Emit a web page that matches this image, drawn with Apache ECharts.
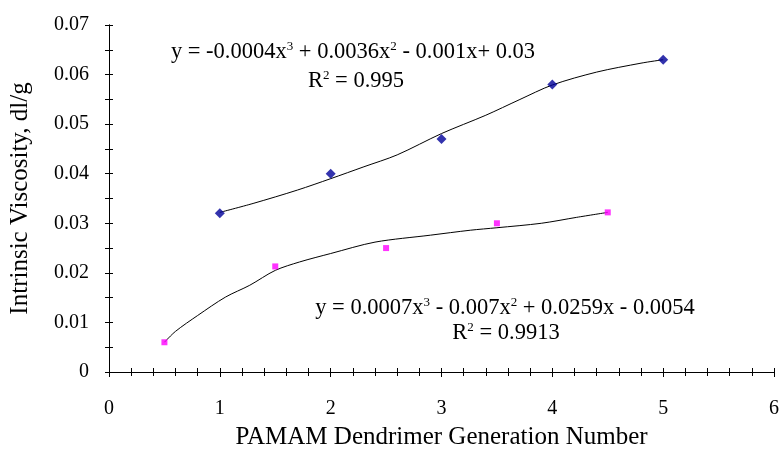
<!DOCTYPE html>
<html><head><meta charset="utf-8">
<script src="https://cdn.jsdelivr.net/npm/echarts@6/dist/echarts.min.js"></script>
<style>html,body{margin:0;padding:0;background:#fff}#c{width:779px;height:451px}</style>
</head><body><div id="c"></div>
<script>
// Data
const blueX = [1, 2, 3, 4, 5];
const blueY = [0.032, 0.040, 0.047, 0.058, 0.063];
const pinkX = [0.5, 1.5, 2.5, 3.5, 4.5];
const pinkY = [0.006, 0.0213, 0.025, 0.030, 0.0322];
// Trend curves
const trendUpX = [1, 1.3, 1.7, 2, 2.3, 2.6, 3, 3.4, 3.7, 4, 4.4, 4.8, 5];
const trendUpY = [0.0322, 0.0340, 0.0367, 0.0390, 0.0414, 0.0438, 0.0481, 0.0518, 0.0549, 0.0579, 0.0605, 0.0623, 0.0630];
const trendLoX = [0.5, 0.6, 0.8, 1.05, 1.27, 1.5, 1.72, 2.0, 2.4, 2.9, 3.26, 3.5, 3.9, 4.22, 4.5];
const trendLoY = [0.0060, 0.0082, 0.0114, 0.0151, 0.0175, 0.0205, 0.0222, 0.0239, 0.0262, 0.0276, 0.0286, 0.0291, 0.0300, 0.0312, 0.0322];
const xTicks = [0, 1, 2, 3, 4, 5, 6];
const yTicks = [0, 0.01, 0.02, 0.03, 0.04, 0.05, 0.06, 0.07];
const eqUp = 'y = -0.0004x{s|3} + 0.0036x{s|2} - 0.001x+ 0.03';
const r2Up = 'R{s|2} = 0.995';
const eqLo = 'y = 0.0007x{s|3} - 0.007x{s|2} + 0.0259x - 0.0054';
const r2Lo = 'R{s|2} = 0.9913';

const FONT = '"Liberation Serif", "Times New Roman", serif';
const chart = echarts.init(document.getElementById('c'));
const pair = (xs, ys) => xs.map((x, i) => [x, ys[i]]);
function eq(text, cx, cy, size) {
  return {type: 'text', x: cx, y: cy, z: 10, style: {text: text, font: size + 'px ' + FONT, fill: '#000',
    align: 'center', verticalAlign: 'middle',
    rich: { s: {fontSize: 13, fontFamily: FONT, verticalAlign: 'top', padding: [0, 0, 9, 0]} }}};
}
const GRID = {left: 109, right: 5, top: 25, bottom: 79, containLabel: false, outerBoundsMode: 'none'};
const lineBlack = {show: true, onZero: false, lineStyle: {color: '#000', width: 1}};
chart.setOption({
  animation: false,
  backgroundColor: '#fff',
  grid: [Object.assign({}, GRID), Object.assign({}, GRID)],
  xAxis: [
    {type: 'value', gridIndex: 0, position: 'bottom', min: 0, max: 6, interval: 1,
      axisLine: lineBlack, splitLine: {show: false},
      axisTick: {show: true, length: 5, inside: false, lineStyle: {color: '#000'}},
      minorTick: {show: true, splitNumber: 5, length: 4, lineStyle: {color: '#000'}},
      axisLabel: {margin: 27, fontSize: 20, fontFamily: FONT, color: '#000',
        customValues: xTicks, formatter: v => String(v)},
      name: 'PAMAM Dendrimer Generation Number', nameLocation: 'middle', nameGap: 53,
      nameTextStyle: {fontSize: 25, fontFamily: FONT, color: '#000'}
    },
    {type: 'value', gridIndex: 1, position: 'bottom', min: 0, max: 6, interval: 1,
      axisLine: lineBlack, splitLine: {show: false},
      axisTick: {show: true, length: 4, inside: true, lineStyle: {color: '#000'}},
      minorTick: {show: true, splitNumber: 5, length: 4, lineStyle: {color: '#000'}},
      axisLabel: {show: false}
    }
  ],
  yAxis: [
    {type: 'value', gridIndex: 0, position: 'left', min: 0, max: 0.07, interval: 0.01,
      axisLine: lineBlack, splitLine: {show: false},
      axisTick: {show: true, length: 4, inside: false, lineStyle: {color: '#000'}},
      minorTick: {show: true, splitNumber: 2, length: 4, lineStyle: {color: '#000'}},
      axisLabel: {margin: 20, fontSize: 20, fontFamily: FONT, color: '#000',
        customValues: yTicks, formatter: v => (v === 0 ? '0' : v.toFixed(2))},
      name: 'Intrinsic Viscosity, dl/g', nameLocation: 'middle', nameGap: 76,
      nameTextStyle: {fontSize: 25, fontFamily: FONT, color: '#000'}
    },
    {type: 'value', gridIndex: 1, position: 'left', min: 0, max: 0.07, interval: 0.01,
      axisLine: lineBlack, splitLine: {show: false},
      axisTick: {show: true, length: 4, inside: true, lineStyle: {color: '#000'}},
      minorTick: {show: true, splitNumber: 2, length: 4, lineStyle: {color: '#000'}},
      axisLabel: {show: false}
    }
  ],
  series: [
    {type: 'line', data: pair(trendUpX, trendUpY), smooth: 0.3, showSymbol: false, symbol: 'none',
      lineStyle: {color: '#000', width: 1}, silent: true, z: 2},
    {type: 'line', data: pair(trendLoX, trendLoY), smooth: 0.3, showSymbol: false, symbol: 'none',
      lineStyle: {color: '#000', width: 1}, silent: true, z: 2},
    {type: 'scatter', data: pair(blueX, blueY), symbol: 'diamond', symbolSize: 10,
      itemStyle: {color: '#000099'}, z: 5},
    {type: 'scatter', data: pair(pinkX, pinkY), symbol: 'rect', symbolSize: 6,
      itemStyle: {color: '#FF00FF'}, z: 5},
    {type: 'scatter', xAxisIndex: 1, yAxisIndex: 1, data: [], silent: true}
  ],
  graphic: [
    eq(eqUp, 353, 52, 22.5),
    eq(r2Up, 356, 81, 22.5),
    eq(eqLo, 505, 308, 22.5),
    eq(r2Lo, 506, 333, 22.5)
  ]
});
</script></body></html>
